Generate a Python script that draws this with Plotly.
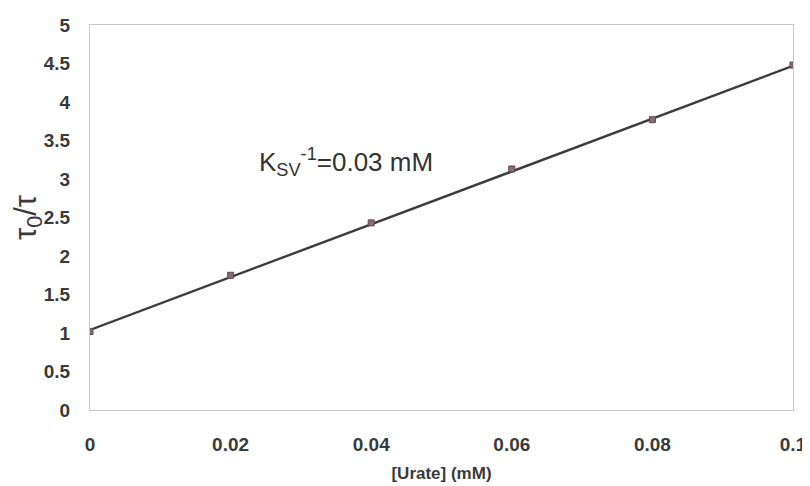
import plotly.graph_objects as go

urate = [0, 0.02, 0.04, 0.06, 0.08, 0.1]
ratio = [1.02, 1.75, 2.43, 3.13, 3.77, 4.48]
fit_x = [0, 0.1]
fit_y = [1.04, 4.47]
x_ticks = [0, 0.02, 0.04, 0.06, 0.08, 0.1]
x_tick_text = ["0", "0.02", "0.04", "0.06", "0.08", "0.1"]
y_ticks = [0, 0.5, 1, 1.5, 2, 2.5, 3, 3.5, 4, 4.5, 5]
y_tick_text = ["0", "0.5", "1", "1.5", "2", "2.5", "3", "3.5", "4", "4.5", "5"]

FONT = "Liberation Sans, Arial"

fig = go.Figure()
fig.add_trace(go.Scatter(x=fit_x, y=fit_y, mode="lines",
                         line=dict(color="#3a3d3d", width=2.4), showlegend=False))
fig.add_trace(go.Scatter(x=urate, y=ratio, mode="markers",
                         marker=dict(symbol="square", size=6, color="#8a6a70",
                                     line=dict(color="#5a4a50", width=1)),
                         showlegend=False))

fig.add_annotation(x=0.0364, y=3.22, xref="x", yref="y",
                   text="K<sub>SV</sub><sup>-1</sup>=0.03 mM", showarrow=False,
                   font=dict(family=FONT, size=26, color="#333"))

fig.update_layout(
    width=802, height=478,
    margin=dict(l=82, r=17, t=17, b=76),
    paper_bgcolor="white", plot_bgcolor="white",
    font=dict(family=FONT, color="#3a3a3a"),
    xaxis=dict(range=[0, 0.1], tickvals=x_ticks, ticktext=x_tick_text,
               showgrid=False, zeroline=False, showline=True, linecolor="#c8c8c8",
               linewidth=1, mirror=True, ticks="", ticklabelstandoff=17,
               automargin=False,
               tickfont=dict(size=19, family=FONT, weight="bold"),
               title=dict(text="<b>[Urate] (mM)</b>", font=dict(size=17, family=FONT),
                          standoff=13)),
    yaxis=dict(range=[0, 5], tickvals=y_ticks, ticktext=y_tick_text,
               showgrid=False, zeroline=False, showline=True, linecolor="#c8c8c8",
               linewidth=1, mirror=True, ticks="", ticklabelstandoff=15,
               automargin=False,
               tickfont=dict(size=19, family=FONT, weight="bold"),
               title=dict(text="τ<sub>0</sub>/τ", font=dict(size=31, family=FONT),
                          standoff=18)),
)

fig.write_html("out.html")
